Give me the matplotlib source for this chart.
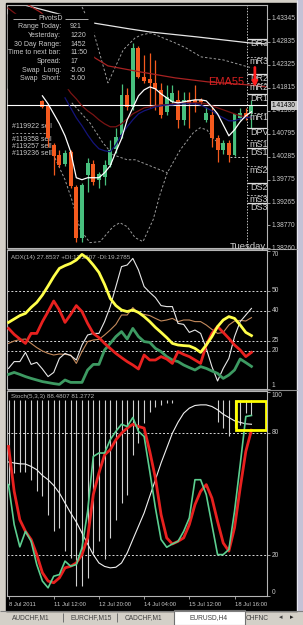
import numpy as np
import matplotlib.pyplot as plt
from matplotlib.patches import Rectangle

plt.rcParams['font.family'] = ['Liberation Sans', 'DejaVu Sans']

# ---------------- EURUSD H4 candles (bars 6..43; earlier bars sit behind the PivotsD box)
first_bar = 6
opens = [1.41527, 1.41416, 1.40552, 1.40330, 1.40130, 1.40396, 1.39620, 1.38490, 1.39887, 1.40130,
         1.39776, 1.39842, 1.40108, 1.40463, 1.40773, 1.41660, 1.41394, 1.42702, 1.42059, 1.42015,
         1.41926, 1.41771, 1.41283, 1.41505, 1.41549, 1.41106, 1.41549, 1.41549, 1.41549, 1.41106,
         1.41217, 1.40707, 1.40441, 1.40596, 1.40330, 1.41150, 1.41261, 1.41261]
highs = [1.41549, 1.41461, 1.40596, 1.40441, 1.40441, 1.40441, 1.39665, 1.39709, 1.40263, 1.40219,
         1.39953, 1.40219, 1.40662, 1.40929, 1.41904, 1.41815, 1.42813, 1.42746, 1.42547, 1.42591,
         1.42436, 1.41926, 1.41882, 1.41882, 1.41771, 1.41727, 1.41727, 1.41882, 1.41594, 1.41394,
         1.41394, 1.40773, 1.40662, 1.40662, 1.41239, 1.41372, 1.41372, 1.41549]
lows = [1.41372, 1.40507, 1.39887, 1.40064, 1.40086, 1.39598, 1.38401, 1.38401, 1.39510, 1.39665,
        1.39598, 1.39665, 1.40064, 1.40374, 1.40707, 1.41328, 1.41328, 1.42037, 1.41926, 1.41394,
        1.41328, 1.41150, 1.41217, 1.41461, 1.40929, 1.40995, 1.40929, 1.41283, 1.41461, 1.41062,
        1.40507, 1.40175, 1.40352, 1.40175, 1.40308, 1.41106, 1.41106, 1.40929]
closes = [1.41394, 1.40707, 1.40308, 1.40108, 1.40374, 1.39643, 1.38490, 1.39665, 1.40153, 1.39731,
          1.39909, 1.40108, 1.40441, 1.40729, 1.41660, 1.41394, 1.42702, 1.42059, 1.41970, 1.41926,
          1.41793, 1.41217, 1.41616, 1.41704, 1.41106, 1.41549, 1.41461, 1.41483, 1.41505, 1.41261,
          1.40707, 1.40441, 1.40596, 1.40330, 1.41239, 1.41261, 1.41172, 1.41430]
bid = 1.41430

# moving averages on the main chart (x in bars)
ma_white_bar = list(range(6, 44))
ma_white = [1.41638, 1.41461, 1.41239, 1.41017, 1.40751, 1.40396, 1.39820, 1.39776, 1.39820, 1.39820,
            1.39820, 1.39931, 1.40086, 1.40396, 1.40685, 1.41106, 1.41372, 1.41638, 1.41771, 1.41837,
            1.41793, 1.41682, 1.41594, 1.41505, 1.41483, 1.41505, 1.41527, 1.41549, 1.41549, 1.41527,
            1.41394, 1.41239, 1.40995, 1.40751, 1.40884, 1.41062, 1.41195, 1.41283]
ma_navy_bar = list(range(10, 44))
ma_navy = [1.41594, 1.41372, 1.41150, 1.40973, 1.40773, 1.40596, 1.40463, 1.40419, 1.40396, 1.40552,
           1.40773, 1.40951, 1.41106, 1.41239, 1.41305, 1.41350, 1.41394, 1.41416, 1.41438, 1.41438,
           1.41461, 1.41461, 1.41461, 1.41461, 1.41438, 1.41372, 1.41305, 1.41217, 1.41150, 1.41084,
           1.41084, 1.41128, 1.41150, 1.41172]
ma_red_bar = [-0.1, 1.5] + list(range(11, 44))
ma_red = [1.43589, 1.43434,
          1.41704, 1.41571, 1.41416, 1.41305, 1.41217, 1.41106, 1.41017, 1.40951, 1.40951, 1.41017,
          1.41128, 1.41239, 1.41305, 1.41372, 1.41394, 1.41416, 1.41438, 1.41438, 1.41461, 1.41461,
          1.41483, 1.41483, 1.41483, 1.41483, 1.41461, 1.41416, 1.41372, 1.41328, 1.41283, 1.41239,
          1.41195, 1.41172, 1.41150]
ema55_bar = [3.5, 5.6, 15.3, 17.6, 23.3, 29.5, 35.3, 42.4, 45.6]
ema55 = [1.43655, 1.43500, 1.42480, 1.42303, 1.42170, 1.42037, 1.41948, 1.41882, 1.41837]
slow_bar = [0, 3.5, 15.0, 21.5, 25.0, 33.4, 42.7, 45.6]
slow_ma = [1.43740, 1.43633, 1.43256, 1.43123, 1.43057, 1.42946, 1.42813, 1.42791]

# band lines (grey dashed)
band_up_bar = [12.7, 15.1, 17.6, 20.3, 22.4, 23.5, 25.2, 29.5, 31.4, 34.1, 38.0, 42.4, 43.1]
band_up = [1.43700, 1.43035, 1.41926, 1.42658, 1.42924, 1.42990, 1.43035, 1.42813, 1.42702,
           1.42503, 1.42436, 1.42281, 1.42259]
band_mid_bar = [11.2, 14.4, 16.7, 18.5, 21.0, 22.4, 28.1]
band_mid = [1.41483, 1.41039, 1.40596, 1.40330, 1.40219, 1.40219, 1.39931]
band_lo_bar = [7.7, 8.2, 10.0, 11.2, 12.7, 14.4, 16.2, 18.5, 19.7, 21.0, 22.4, 23.8, 25.6, 26.8,
               28.1, 30.4, 32.7, 33.9, 35.1, 36.5, 38.3]
band_lo = [1.40441, 1.40263, 1.39776, 1.39332, 1.38667, 1.38379, 1.38401, 1.38734, 1.38822,
           1.38734, 1.38490, 1.38401, 1.38889, 1.39443, 1.39931, 1.40441, 1.40818, 1.40929,
           1.40884, 1.40662, 1.40485]

# daily pivots
pivot_names = ['DR3', 'mR3', 'DR2', 'mR2', 'DR1', 'mR1', 'DPV', 'mS1', 'DS1', 'mS2', 'DS2', 'mS3', 'DS3']
pivot_levels = [1.42902, 1.42503, 1.42126, 1.41926, 1.41682, 1.41261, 1.40929, 1.40662, 1.40485,
                1.40086, 1.39709, 1.39443, 1.39266]
pivot_start = 42.2

order_ids = ['#119922 sell', '#119358 sell', '#119257 sell', '#119236 sell']
order_levels = [1.40951, 1.40662, 1.40507, 1.40352]
order_line = 1.40818

price_ticks = [1.43345, 1.42835, 1.42325, 1.41815, 1.41305, 1.40795, 1.40285, 1.39775, 1.39265,
               1.38770, 1.38260]

pivotsd_rows = ['Range Today:', 'Yesterday:', '30 Day Range:', 'Time to next bar:', 'Spread:',
                'Swap  Long:', 'Swap  Short:']
pivotsd_vals = ['921', '1220', '1452', '11:50', '17', '-5.00', '-5.00']

# ---------------- ADX(14) window
adx_main = [34.3, 36.0, 37.7, 38.8, 41.8, 44.3, 48.0, 52.5, 57.2, 61.3, 62.7, 63.8, 65.5, 68.3, 66.3,
            63.0, 59.3, 53.3, 46.3, 42.7, 40.5, 39.7, 40.5, 39.3, 37.2, 34.7, 31.8, 29.3, 26.7, 23.8,
            23.0, 22.7, 22.5, 21.3, 19.3, 23.0, 27.2, 32.2, 35.5, 37.2, 36.3, 33.0, 29.3, 27.7]
adx_minus = [31.3, 28.3, 26.0, 23.8, 28.8, 28.8, 34.7, 39.7, 45.0, 40.5, 34.3, 38.3, 42.7, 39.7, 33.8,
             28.8, 26.7, 23.8, 21.3, 18.8, 16.7, 14.7, 13.0, 11.0, 18.0, 15.5, 15.5, 17.2, 16.0, 13.8,
             19.7, 18.3, 17.2, 15.5, 13.8, 23.0, 28.8, 32.2, 29.3, 26.3, 23.0, 20.5, 17.2, 19.3]
adx_plus = [8.3, 9.3, 8.3, 7.2, 6.3, 5.5, 4.7, 4.2, 3.7, 3.3, 5.5, 4.3, 4.3, 4.3, 10.5, 13.3, 13.3,
            20.5, 23.8, 27.2, 29.7, 26.0, 31.3, 27.2, 24.7, 24.3, 21.3, 19.7, 17.2, 15.5, 14.7, 13.0,
            11.7, 10.5, 12.2, 11.3, 10.0, 8.8, 6.3, 8.0, 10.5, 16.0, 14.2, 12.3]
adx2_white = [11.3, 14.7, 14.7, 19.3, 13.3, 14.3, 11.0, 7.2, 9.3, 16.3, 18.8, 17.7, 15.5, 23.0, 28.0,
              28.8, 28.8, 34.7, 42.2, 52.2, 62.2, 63.0, 66.3, 60.5, 52.2, 49.3, 46.7, 42.7, 42.2, 42.2,
              33.8, 33.3, 29.3, 30.5, 28.8, 21.3, 12.2, 5.0, 11.3, 16.3, 27.2, 34.7, 38.0, 41.3]
adx2_tan = [23.8, 25.0, 25.7, 26.0, 23.8, 21.7, 20.0, 18.8, 18.0, 18.5, 18.3, 18.0, 13.8, 19.7, 24.7,
            25.5, 25.8, 28.0, 30.5, 33.3, 38.0, 38.0, 41.7, 38.8, 38.3, 37.7, 36.3, 35.0, 35.5, 36.3,
            34.7, 35.5, 35.5, 34.7, 34.7, 33.0, 30.8, 28.8, 29.3, 33.0, 35.0, 35.3, 35.0, 36.7]
adx_levels = [50, 40, 25, 20]
adx_ticks = [70, 50, 40, 25, 20, 1]

# ---------------- Stoch(5,3,3) window
stoch_k = [54.6, 35.0, 24.1, 31.7, 26.8, 15.4, 7.3, 4.0, 9.7, 10.5, 17.1, 14.6, 15.4, 23.6, 41.5,
           68.4, 70.1, 70.1, 76.6, 80.7, 84.2, 83.1, 87.5, 80.7, 78.2, 61.1, 43.2, 27.7, 23.9, 25.5,
           26.8, 31.7, 38.3, 57.0, 57.0, 49.7, 35.0, 20.3, 20.3, 22.8, 41.5, 64.3, 88.0, 88.5]
stoch_d = [73.3, 51.3, 37.4, 31.7, 27.7, 20.3, 11.4, 7.3, 6.5, 8.9, 13.8, 14.6, 16.2, 20.3, 28.5,
           49.7, 60.3, 69.2, 71.7, 76.6, 79.8, 82.3, 84.2, 83.1, 82.3, 70.9, 57.8, 39.9, 28.5, 25.5,
           26.8, 28.5, 35.0, 44.8, 51.3, 54.6, 48.0, 36.6, 26.0, 22.0, 33.4, 52.9, 70.9, 81.3]
stoch_slow = [65.7, 65.2, 64.8, 64.7, 63.5, 61.9, 59.1, 57.0, 54.2, 50.5, 45.6, 40.7, 36.3, 30.9, 25.5,
              20.3, 16.2, 14.5, 13.8, 14.1, 16.2, 21.1, 27.7, 34.2, 40.7, 48.9, 57.0, 65.2, 72.5, 79.8,
              85.2, 89.6, 92.1, 93.4, 93.7, 93.7, 92.9, 91.3, 89.1, 87.5, 85.9, 85.1, 84.4, 84.2]
stoch_hist = [54.6, 60.3, 60.8, 60.8, 57.0, 51.3, 48.9, 39.9, 31.7, 33.4, 22.0, 18.7, 4.8, 4.8, 8.9,
              21.1, 26.8, 17.9, 28.5, 37.4, 45.6, 49.7, 69.2, 74.9, 84.7, 90.4, 92.9, 93.7, 94.5, 94.5,
              96, 96, 96, 96, 96, 96, 96, 85.5, 82.3, 78.2, 82.3, 83.9, 89.6, 88.8]
hist_top = 96
stoch_levels = [80, 20]
stoch_ticks = [100, 80, 20, 0]

date_bars = [0, 8, 16, 24, 32, 40]
date_labels = ['8 Jul 2011', '11 Jul 12:00', '12 Jul 20:00', '14 Jul 04:00', '15 Jul 12:00', '18 Jul 16:00']
tabs = ['AUDCHF,M1', 'EURCHF,M15', 'CADCHF,M1', 'EURUSD,H4', 'CHFNC']

# ---------------- figure
W, H = 303, 625
XLIM = (-0.27, 45.75)
FG = '#c8c8c8'
GREEN, ORANGE = '#48c07e', '#f45a1e'
AXFS = 4.8

fig = plt.figure(figsize=(W / 100, H / 100), dpi=100)
fig.patch.set_facecolor('#d4d0c8')


def px_axes(x0, y0, x1, y1):
    return fig.add_axes([x0 / W, 1 - y1 / H, (x1 - x0) / W, (y1 - y0) / H])


def style(ax, ylim):
    ax.set_facecolor('black')
    for s in ax.spines.values():
        s.set_color('#b4b4b4')
        s.set_linewidth(0.8)
    ax.set_xlim(*XLIM)
    ax.set_ylim(*ylim)
    ax.set_xticks([])
    ax.yaxis.tick_right()
    ax.tick_params(axis='y', length=2.5, width=0.6, color='#b4b4b4', labelright=False, labelleft=False)


def right_labels(ax, levels, fmt, first_va='center', last_va='center'):
    ax.set_yticks(levels)
    for k, lv in enumerate(levels):
        va = first_va if k == 0 else (last_va if k == len(levels) - 1 else 'center')
        ax.text(1.018, lv, fmt.format(lv), transform=ax.get_yaxis_transform(), ha='left', va=va,
                fontsize=AXFS, color=FG, clip_on=False)


# window background (pixel coords)
bg = fig.add_axes([0, 0, 1, 1])
bg.set_xlim(0, W)
bg.set_ylim(H, 0)
bg.axis('off')
bg.add_patch(Rectangle((6, 3), 291, 608, color='black'))
bg.add_patch(Rectangle((297, 0), 6, 611, color='#c4c2d6'))
bg.vlines(297, 0, 611, color='#e8e8f0', lw=0.8)
bg.hlines([249, 390], 7, 297, color='#8c8c8c', lw=0.8)
bg.hlines(611, 0, W, color='#808080', lw=0.8)
# tab strip
bg.add_patch(Rectangle((174, 610), 71, 15, facecolor='white', edgecolor='#707070', lw=0.8))
for tx, name in zip([31, 91, 143, 209, 257], tabs):
    bg.text(tx, 618, name, ha='center', va='center', fontsize=4.8, color='#404040')
bg.vlines([63, 117], 613, 622, color='#606060', lw=0.6)
bg.text(281, 618, '\u25c2', ha='center', va='center', fontsize=5, color='#404040')
bg.text(292, 618, '\u25b8', ha='center', va='center', fontsize=5, color='#202020')

# ---------------- main price window
ax = px_axes(7, 5, 267, 248)
style(ax, (1.38268, 1.43655))
right_labels(ax, price_ticks, '{:.5f}')

bars = np.arange(first_bar, first_bar + len(opens))
o, h, l, c = map(np.array, (opens, highs, lows, closes))
col = np.where(c >= o, GREEN, ORANGE)

ax.plot(slow_bar, slow_ma, color='#e6e6e6', lw=0.9, zorder=2)
ax.plot(band_up_bar, band_up, color='#9a9a9a', lw=0.7, ls=(0, (2.5, 2)), zorder=2)
ax.plot(band_mid_bar, band_mid, color='#9a9a9a', lw=0.7, ls=(0, (2.5, 2)), zorder=2)
ax.plot(band_lo_bar, band_lo, color='#9a9a9a', lw=0.7, ls=(0, (2.5, 2)), zorder=2)
ax.axvline(pivot_start, color='#c0c0c0', lw=0.7, ls=(0, (1.5, 1.5)), zorder=2)
ax.hlines(order_line, 0.6, 7, color='#9a9a9a', lw=0.7, ls=(0, (2, 2)), zorder=2)
ax.hlines(1.40286, 39.2, pivot_start, color='#c0c0c0', lw=0.7, ls=(0, (2, 2)), zorder=2)
for name, lv in zip(order_ids, order_levels):
    ax.text(0.6, lv, name, fontsize=5, color=FG, va='center', ha='left', zorder=2)

ax.vlines(bars, l, h, colors=col, lw=0.9, zorder=3)
ax.bar(bars, np.maximum(np.abs(c - o), 0.00008), bottom=np.minimum(o, c), width=0.7,
       color=col, zorder=4)

ax.axhline(bid, color='white', lw=0.8, zorder=5)
ax.plot(ema55_bar, ema55, color='#a82222', lw=0.9, zorder=5)
ax.plot(ma_red_bar, ma_red, color='#7a1414', lw=0.9, zorder=5)
ax.plot(ma_navy_bar, ma_navy, color='#14147a', lw=0.9, zorder=5)
ax.plot(ma_white_bar, ma_white, color='white', lw=0.9, zorder=6)

for name, lv in zip(pivot_names, pivot_levels):
    if name.startswith('D'):
        ax.hlines(lv, pivot_start, XLIM[1], color='#e0e0e0', lw=0.9, zorder=5)
    else:
        ax.hlines(lv, pivot_start, XLIM[1], color='#a0a0a0', lw=0.7, ls=(0, (2, 1.5)), zorder=5)
    ax.text(42.7, lv, name, fontsize=6.5, color='#d0d0d0', va='top', ha='left', zorder=7)

ax.text(35.3, 1.41948, 'EMA55', fontsize=8, color='#d42020', ha='left', va='center', zorder=7)
ax.annotate('', xy=(43.6, 1.41771), xytext=(43.6, 1.42330),
            arrowprops=dict(arrowstyle='-|>', color='#ff1e1e', lw=2, mutation_scale=7), zorder=8)
ax.text(39.2, 1.38300, 'Tuesday', fontsize=6.8, color='#d0d0d0', ha='left', va='center', zorder=7)
ax.text(1.018, bid, '1.41430', transform=ax.get_yaxis_transform(), ha='left', va='center',
        fontsize=AXFS, color='black', clip_on=False, zorder=9,
        bbox=dict(boxstyle='square,pad=0.15', facecolor='#c8c8c8', edgecolor='none'))

# ---------------- ADX window
ax2 = px_axes(7, 250, 267, 389)
style(ax2, (1, 70.5))
right_labels(ax2, adx_ticks, '{:d}', first_va='top', last_va='bottom')
xb = np.arange(len(adx_main))
for lv in adx_levels:
    ax2.axhline(lv, color='#d8d8d8', lw=0.7, ls=(0, (2, 2)), zorder=1)
ax2.plot(xb, adx2_tan, color='#c48a5c', lw=0.8, zorder=2)
ax2.plot(xb, adx2_white, color='#e8e8e8', lw=0.8, zorder=2)
ax2.plot(xb, adx_plus, color='#3d9a62', lw=2, zorder=3)
ax2.plot(xb, adx_minus, color='#e8211f', lw=2, zorder=3)
ax2.plot(xb, adx_main, color='#ffff4a', lw=2, zorder=4)
ax2.text(0.015, 0.965, 'ADX(14) 27.8537 +DI:12.2607 -DI:19.2785', transform=ax2.transAxes,
         fontsize=4.5, color='#b8b8b8', ha='left', va='top', zorder=1)

# ---------------- Stochastic window
ax3 = px_axes(7, 391, 267, 596)
style(ax3, (0.2, 100.5))
right_labels(ax3, stoch_ticks, '{:d}', first_va='top', last_va='bottom')
xs = np.arange(len(stoch_k))
for lv in stoch_levels:
    ax3.axhline(lv, color='#d8d8d8', lw=0.7, ls=(0, (2, 2)), zorder=1)
ax3.vlines(xs, stoch_hist, hist_top, color='#d0d0d0', lw=0.8, zorder=2)
ax3.plot(xs, stoch_slow, color='#f0f0f0', lw=0.8, zorder=3)
ax3.plot(xs, stoch_d, color='#e8211f', lw=2, zorder=4)
ax3.plot(xs, stoch_k, color='#5ccf90', lw=1.2, zorder=5)
ax3.add_patch(Rectangle((40.3, 81.5), 5.2, 14.1, fill=False, edgecolor='#ffff00', lw=2, zorder=6))
ax3.text(0.015, 0.985, 'Stoch(5,3,3) 88.4807 81.2772', transform=ax3.transAxes,
         fontsize=4.5, color='#b8b8b8', ha='left', va='top', zorder=1)

ax3.set_xticks(date_bars)
ax3.set_xticklabels(date_labels, ha='left', fontsize=4.2, color=FG)
ax3.tick_params(axis='x', length=2.5, width=0.6, color='#b4b4b4', pad=1.5)

# ---------------- PivotsD info box (opaque, hides what is under it)
ov = fig.add_axes([0, 0, 1, 1])
ov.set_xlim(0, W)
ov.set_ylim(H, 0)
ov.axis('off')
ov.add_patch(Rectangle((7.5, 14), 85.5, 74, color='black'))
ov.hlines(19, 13, 36, color=FG, lw=0.6)
ov.hlines(19, 65, 88, color=FG, lw=0.6)
ov.text(50.5, 19, 'PivotsD', fontsize=5, color=FG, ha='center', va='center')
for k, (lab, val) in enumerate(zip(pivotsd_rows, pivotsd_vals)):
    yy = 27 + k * 8.6
    ov.text(61, yy, lab, fontsize=5, color=FG, ha='right', va='center')
    ov.text(70, yy, val, fontsize=5, color=FG, ha='left', va='center')

fig.savefig('out.png', dpi=100, facecolor=fig.get_facecolor())
